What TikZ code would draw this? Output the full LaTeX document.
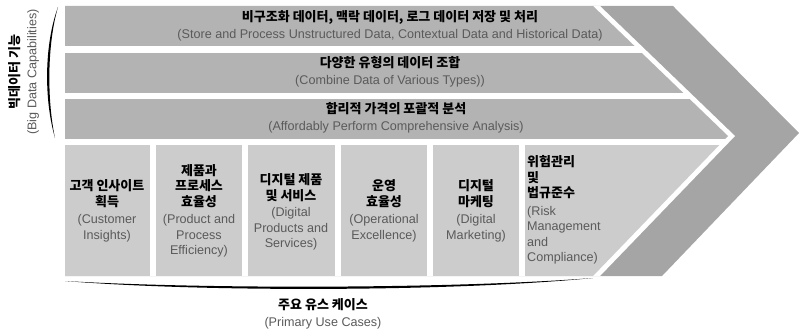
\documentclass[tikz,border=0pt]{standalone}
\usepackage{fontspec}
\setmainfont{Liberation Sans}
\newfontfamily\kofont{Noto Sans CJK KR}
\definecolor{rowgray}{HTML}{B3B3B3}
\definecolor{boxgray}{HTML}{CCCCCC}
\definecolor{arrowgray}{HTML}{A5A5A5}
\definecolor{engray}{HTML}{5A5A5A}
\newcommand{\kor}{\kofont\bfseries\fontsize{13}{15.5}\selectfont\color{black}}
\newcommand{\eng}{\rmfamily\mdseries\fontsize{12.6}{15.5}\selectfont\color{engray}}

\begin{document}
\begin{tikzpicture}[x=1pt,y=-1pt,txt/.style={align=center,inner sep=0pt,font=\fontsize{12.6}{15.5}\selectfont},
  lefttxt/.style={txt,align=left,anchor=west}]
\useasboundingbox (0,0) rectangle (799,331);

\begin{scope}
% chevron corners
\coordinate (tl) at (65,6);
\coordinate (bl) at (65,276);
\coordinate (o1) at (673,6);
\coordinate (o2) at (799,133);
\coordinate (o3) at (662,276);
\coordinate (w1) at (600,6);
\coordinate (w2) at (735,136);
\coordinate (w3) at (600,276);
\coordinate (i1) at (593,6);
\coordinate (i2) at (728,136);
\coordinate (i3) at (593,276);

\fill[arrowgray] (tl) -- (o1) -- (o2) -- (o3) -- (bl) -- cycle;
\fill[white] (tl) -- (w1) -- (w2) -- (w3) -- (bl) -- cycle;

\begin{scope}
\clip (tl) -- (i1) -- (i2) -- (i3) -- (bl) -- cycle;
\fill[rowgray] (65,6) rectangle (800,46);
\fill[rowgray] (65,53) rectangle (800,93);
\fill[rowgray] (65,99) rectangle (800,139);
\fill[boxgray] (64,145) rectangle (150,276);
\fill[boxgray] (156,145) rectangle (242,276);
\fill[boxgray] (248,145) rectangle (335,276);
\fill[boxgray] (341,145) rectangle (427,276);
\fill[boxgray] (433,145) rectangle (519,276);
\fill[boxgray] (525,145) rectangle (800,276);
\end{scope}
\end{scope}

% big data rows
\node[txt] (r1) at (390,26) {\kor 비구조화 데이터, 맥락 데이터, 로그 데이터 저장 및 처리\\[2pt] \eng (Store and Process Unstructured Data, Contextual Data and Historical Data)};
\node[txt] (r2) at (390,72) {\kor 다양한 유형의 데이터 조합\\[2pt] \eng (Combine Data of Various Types))};
\node[txt] (r3) at (396,118) {\kor 합리적 가격의 포괄적 분석\\[2pt] \eng (Affordably Perform Comprehensive Analysis)};

% use cases
\node[txt] (u1) at (107,211) {\kor 고객 인사이트\\ \kor 획득\\[2pt] \eng (Customer\\ \eng Insights)};
\node[txt] (u2) at (199,211) {\kor 제품과\\ \kor 프로세스\\ \kor 효율성\\[2pt] \eng (Product and\\ \eng Process\\ \eng Efficiency)};
\node[txt] (u3) at (291,212) {\kor 디지털 제품\\ \kor 및 서비스\\[1pt] \eng (Digital\\ \eng Products and\\ \eng Services)};
\node[txt] (u4) at (384,211) {\kor 운영\\ \kor 효율성\\[2pt] \eng (Operational\\ \eng Excellence)};
\node[txt] (u5) at (476,211) {\kor 디지털\\ \kor 마케팅\\[2pt] \eng (Digital\\ \eng Marketing)};
\node[lefttxt] (u6) at (527,210) {\kor 위험관리\\ \kor 및\\ \kor 법규준수\\[2pt] \eng (Risk\\ \eng Management\\ \eng and\\ \eng Compliance)};

% braces
\fill (58,7) .. controls (44,45) and (44,100) .. (55,138) .. controls (47,100) and (47,45) .. (58,7) -- cycle;
\fill (65,281) .. controls (200,292) and (450,292) .. (593,278) .. controls (450,289) and (200,289) .. (65,281) -- cycle;

\node[txt,rotate=90] (cap) at (24,72) {\kor 빅데이터 기능\\[1pt] \eng (Big Data Capabilities)};
\node[txt] (cases) at (323,314) {\kor 주요 유스 케이스\\[1pt] \eng (Primary Use Cases)};

\end{tikzpicture}
\end{document}
